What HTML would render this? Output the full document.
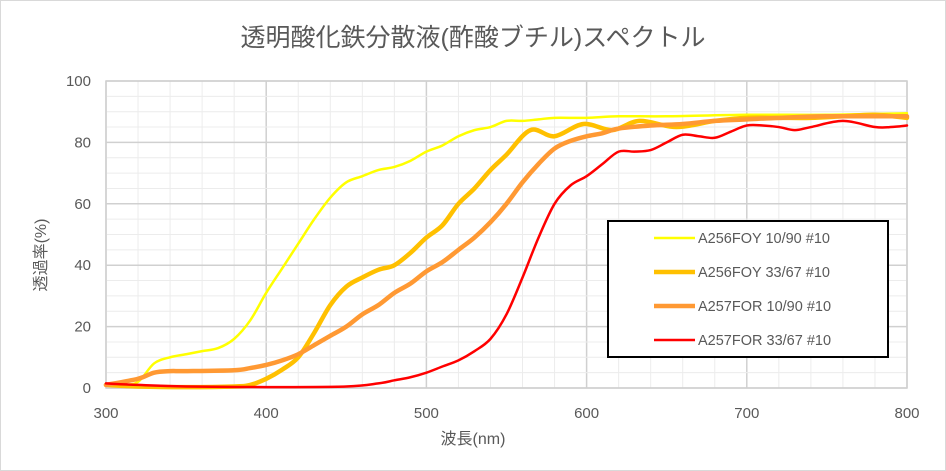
<!DOCTYPE html>
<html><head><meta charset="utf-8">
<style>
body{margin:0;background:#fff;}
svg{display:block;font-family:"Liberation Sans","Noto Sans CJK JP",sans-serif;}
</style></head>
<body>
<svg id="chart" width="946" height="471" viewBox="0 0 946 471">
<rect x="0.5" y="0.5" width="945" height="470" fill="#fff" stroke="#d9d9d9"/>
<text x="473" y="46" text-anchor="middle" font-size="25" fill="#595959">透明酸化鉄分散液(酢酸ブチル)スペクトル</text>
<g id="grid"></g>
<g id="series"></g>
<g id="axes"></g>
<text x="473" y="444" text-anchor="middle" font-size="16" fill="#595959">波長(nm)</text>
<text transform="translate(46,255) rotate(-90)" text-anchor="middle" font-size="16" fill="#595959">透過率(%)</text>
<g id="legend"></g>
</svg>
<script>
const xTicks=[300,400,500,600,700,800];
const yTicks=[0,20,40,60,80,100];
const seriesNames=["A256FOY 10/90 #10","A256FOY 33/67 #10","A257FOR 10/90 #10","A257FOR 33/67 #10"];
const wlY1=[300,310,320,330,340,350,360,370,380,390,400,410,420,430,440,450,460,470,480,490,500,510,520,530,540,550,560,570,580,600,620,650,700,750,800];
const valY1=[1,1,2,8,10,11,12,13,16,22,31,39,47,55,62,67,69,71,72,74,77,79,82,84,85,87,87,87.5,88,88,88.5,88.5,89,89,89.5];
const wlY2=[300,320,350,380,390,400,410,420,430,440,450,460,470,480,490,500,510,520,530,540,550,565,580,598,616,633,656,680,700,720,740,760,780,800];
const valY2=[1,0.5,0.3,0.5,1,3,6,10,18,27,33,36,38.5,40,44,49,53,60,65,71,76,84,82,86,84,87,85,87,88,88,88,88.5,89,88];
const wlO1=[300,320,330,340,350,380,390,400,410,420,430,440,450,460,470,480,490,500,510,520,530,540,550,560,570,580,590,600,610,620,640,660,680,700,720,750,800];
const valO1=[1,3,5,5.5,5.5,5.8,6.5,7.5,9,11,14,17,20,24,27,31,34,38,41,45,49,54,60,67,73,78,80.5,82,83,84.5,85.5,86,87,87.5,88,88.5,88.5];
const wlR1=[300,320,350,400,450,470,480,490,500,510,520,530,540,550,560,570,580,590,600,610,620,630,640,650,660,670,680,690,700,710,720,730,740,760,780,790,800];
const valR1=[1.5,1,0.5,0.3,0.5,1.5,2.5,3.5,5,7,9,12,16,24,36,49,60,66,69,73,77,77,77.5,80,82.5,82,81.5,83.5,85.5,85.5,85,84,85,87,85,85,85.5];
const colors=["#ffff00","#ffc000","#ff9933","#ff0000"];
const widths=[2.5,4.5,4.5,2.5];
const NS="http://www.w3.org/2000/svg";
const X0=106,X1=907,Y0=388,Y1=81;
function sx(v){return X0+(v-300)/(800-300)*(X1-X0);}
function sy(v){return Y0-(v/100)*(Y0-Y1);}
function mk(tag,attrs,parent){const e=document.createElementNS(NS,tag);for(const k in attrs)e.setAttribute(k,attrs[k]);parent.appendChild(e);return e;}
const grid=document.getElementById('grid'),axes=document.getElementById('axes'),ser=document.getElementById('series'),leg=document.getElementById('legend');
for(let v=300;v<=800;v+=20){const l=mk('line',{x1:sx(v),x2:sx(v),y1:Y1,y2:Y0,stroke:v%100==0?'#d0d0d0':'#ececec','stroke-width':v%100==0?1.5:1},grid);

}
for(let v=0;v<=100;v+=5){const l=mk('line',{x1:X0,x2:X1,y1:sy(v),y2:sy(v),stroke:v%20==0?'#d0d0d0':'#ececec','stroke-width':v%20==0?1.5:1},grid);

}
const fr=mk('rect',{x:X0,y:Y1,width:X1-X0,height:Y0-Y1,fill:'none',stroke:'#d0d0d0','stroke-width':1.5},grid);


xTicks.forEach(t=>{const e=mk('text',{x:sx(t),y:418,'text-anchor':'middle','font-size':15,fill:'#595959'},axes);e.textContent=t;

});
yTicks.forEach(t=>{const e=mk('text',{x:91,y:sy(t)+5,'text-anchor':'end','font-size':15,fill:'#595959'},axes);e.textContent=t;

});
function pathD(xs,ys){const p=xs.map((x,i)=>[sx(x),sy(ys[i])]);let d='M'+p[0][0]+','+p[0][1];
for(let i=0;i<p.length-1;i++){const a=p[Math.max(i-1,0)],b=p[i],c=p[i+1],e=p[Math.min(i+2,p.length-1)];
d+=' C'+(b[0]+(c[0]-a[0])/6)+','+(b[1]+(c[1]-a[1])/6)+' '+(c[0]-(e[0]-b[0])/6)+','+(c[1]-(e[1]-b[1])/6)+' '+c[0]+','+c[1];}return d;}
const data=[[wlY1,valY1],[wlY2,valY2],[wlO1,valO1],[wlR1,valR1]];
const snames=['series-a256foy-10-90','series-a256foy-33-67','series-a257for-10-90','series-a257for-33-67'];
data.forEach((s,i)=>{const p=mk('path',{d:pathD(s[0],s[1]),fill:'none',stroke:colors[i],'stroke-width':widths[i],'stroke-linejoin':'round','stroke-linecap':'round'},ser);

});
const lb=mk('rect',{x:608,y:221,width:280,height:136,fill:'#fff',stroke:'#000','stroke-width':2},leg);


seriesNames.forEach((n,i)=>{const y=238+i*34;
const l=mk('line',{x1:654,x2:695,y1:y,y2:y,stroke:colors[i],'stroke-width':widths[i]},leg);


const t=mk('text',{x:698,y:y+5,'font-size':14.5,fill:'#595959'},leg);t.textContent=n;

});
</script>
</body></html>
